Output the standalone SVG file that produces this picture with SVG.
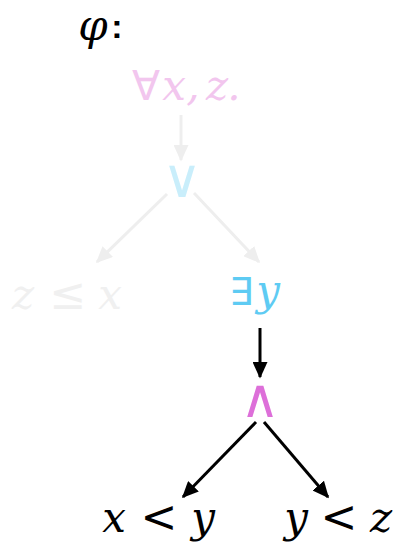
<svg xmlns="http://www.w3.org/2000/svg" width="401" height="544" viewBox="0 0 401 544">
<style>
text{text-anchor:middle}
.v{font-family:"DejaVu Serif","Liberation Serif",serif;font-style:italic;font-size:42px}
.o{font-family:"DejaVu Sans","Liberation Sans",sans-serif;font-size:44px}
.g{stroke:#eeeeee;stroke-width:3;fill:none}
.k{stroke:#000;stroke-width:3;fill:none}
</style>
<defs>
<marker id="ag" markerWidth="5.5" markerHeight="5" refX="5" refY="2.5" orient="auto" markerUnits="strokeWidth" viewBox="0 0 5.5 5"><path d="M0,0L5.5,2.5L0,5z" fill="#eeeeee"/></marker>
<marker id="ak" markerWidth="5.5" markerHeight="5" refX="5" refY="2.5" orient="auto" markerUnits="strokeWidth" viewBox="0 0 5.5 5"><path d="M0,0L5.5,2.5L0,5z" fill="#000"/></marker>
</defs>
<g id="phi">
<text x="93" y="40" class="v" style="font-size:42px">φ</text>
<text x="117" y="38" style="font-family:'Liberation Sans',sans-serif;font-weight:bold;font-size:34px">:</text>
</g>
<g id="connectors">
<line class="g" x1="181" y1="115" x2="181" y2="160" marker-end="url(#ag)"/>
<line class="g" x1="167" y1="194" x2="97" y2="262" marker-end="url(#ag)"/>
<line class="g" x1="194" y1="193" x2="259" y2="262" marker-end="url(#ag)"/>
<line class="k" x1="260" y1="328" x2="260" y2="377" marker-end="url(#ak)"/>
<line class="k" x1="256" y1="422" x2="183" y2="497" marker-end="url(#ak)"/>
<line class="k" x1="264" y1="422" x2="328" y2="497" marker-end="url(#ak)"/>
</g>
<g id="forall" fill="#f2c6ee">
<text x="146" y="100" class="o" style="font-size:41px">∀</text>
<text x="174" y="100" class="v">x</text>
<text x="193" y="100" class="v">,</text>
<text x="217" y="100" class="v">z</text>
<text x="234" y="100" class="v">.</text>
</g>
<g id="or"><text x="182" y="197" class="o" style="font-size:54px" fill="#c9eefb">∨</text></g>
<g id="leq" fill="#f0f0f0">
<text x="23" y="309" class="v">z</text>
<text x="68" y="309" class="o">≤</text>
<text x="110" y="309" class="v">x</text>
</g>
<g id="exists">
<text x="241" y="305" class="o" style="font-size:38px" fill="#5ecbf3">∃</text>
<text x="268" y="305" class="v" fill="#5ecbf3">y</text>
</g>
<g id="and"><text x="260" y="417" class="o" style="font-size:54px" fill="#dd6fd9">∧</text></g>
<g id="xy">
<text x="114" y="532" class="v">x</text>
<text x="159" y="532" class="o">&lt;</text>
<text x="203" y="532" class="v">y</text>
</g>
<g id="yz">
<text x="296" y="532" class="v">y</text>
<text x="339" y="532" class="o">&lt;</text>
<text x="381" y="532" class="v">z</text>
</g>
</svg>
